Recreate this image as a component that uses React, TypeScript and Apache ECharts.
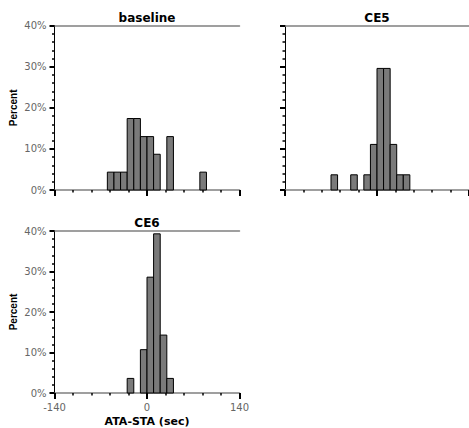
import React, { useEffect, useRef } from "react";
import * as echarts from "echarts";

const panelTitles = ["baseline", "CE5", "CE6"];
const binWidth = 10;
const baselineStarts = [-60, -50, -40, -30, -20, -10, 0, 10, 30, 80];
const baselinePct = [4.35, 4.35, 4.35, 17.4, 17.4, 13.0, 13.0, 8.7, 13.0, 4.35];
const ce5Starts = [-70, -40, -20, -10, 0, 10, 20, 30, 40];
const ce5Pct = [3.7, 3.7, 3.7, 11.1, 29.6, 29.6, 11.1, 3.7, 3.7];
const ce6Starts = [-30, -10, 0, 10, 20, 30];
const ce6Pct = [3.6, 10.7, 28.6, 39.3, 14.3, 3.6];
const xMin = -140;
const xMax = 140;
const xInterval = 140;
const yMax = 40;
const yInterval = 10;
const xAxisTitle = "ATA-STA (sec)";
const yAxisTitle = "Percent";

const grids = [
  { left: 54.5, top: 25.7, width: 185, height: 164.3 },
  { left: 285, top: 25.7, width: 185, height: 164.3 },
  { left: 54.5, top: 231, width: 185, height: 164.3 },
];

export default function App() {
  const ref = useRef<HTMLDivElement>(null);
  useEffect(() => {
    if (!ref.current) return;
    const chart = echarts.init(ref.current, null, { renderer: "svg" });
    const seriesData = [
      baselineStarts.map((s, i) => [s, s + binWidth, baselinePct[i]]),
      ce5Starts.map((s, i) => [s, s + binWidth, ce5Pct[i]]),
      ce6Starts.map((s, i) => [s, s + binWidth, ce6Pct[i]]),
    ];
    const xAxes: any[] = [];
    const yAxes: any[] = [];
    const series: any[] = [];
    grids.forEach((g, i) => {
      xAxes.push({
        type: "value",
        gridIndex: i,
        position: "bottom",
        min: xMin,
        max: xMax,
        interval: xInterval,
        name: i === 2 ? xAxisTitle : "",
        nameLocation: "middle",
        nameGap: 23,
        nameTextStyle: {
          fontFamily: "DejaVu Sans",
          fontWeight: "bold",
          fontSize: 11,
          color: "#000",
        },
        axisLine: { show: true, onZero: false, lineStyle: { color: "#808080", width: 1.5 } },
        axisTick: { show: true, length: 6, lineStyle: { color: "#000", width: 2 } },
        minorTick: { show: true, splitNumber: 5, length: 2.5, lineStyle: { color: "#000", width: 1.5 } },
        splitLine: { show: false },
        minorSplitLine: { show: false },
        axisLabel: {
          show: i === 2,
          margin: 9,
          fontFamily: "DejaVu Sans",
          fontSize: 10,
          color: "#666",
        },
      });
      xAxes.push({
        type: "value",
        gridIndex: i,
        position: "top",
        min: xMin,
        max: xMax,
        interval: xInterval,
        name: panelTitles[i],
        nameLocation: "middle",
        nameGap: 2,
        nameTextStyle: {
          fontFamily: "DejaVu Sans",
          fontWeight: "bold",
          fontSize: 12,
          color: "#000",
        },
        axisLine: { show: true, onZero: false, lineStyle: { color: "#808080", width: 1.5 } },
        axisTick: { show: false },
        axisLabel: { show: false },
        splitLine: { show: false },
      });
      yAxes.push({
        type: "value",
        gridIndex: i,
        min: 0,
        max: yMax,
        interval: yInterval,
        name: i === 1 ? "" : yAxisTitle,
        nameLocation: "middle",
        nameRotate: 90,
        nameGap: 36,
        nameTextStyle: {
          fontFamily: "Liberation Sans",
          fontWeight: "bold",
          fontSize: 10,
          color: "#000",
        },
        axisLine: { show: true, onZero: false, lineStyle: { color: "#000", width: 1 } },
        axisTick: { show: true, length: 5, lineStyle: { color: "#000", width: 2 } },
        minorTick: { show: true, splitNumber: 5, length: 2.5, lineStyle: { color: "#000", width: 1.5 } },
        splitLine: { show: false },
        minorSplitLine: { show: false },
        axisLabel: {
          show: i !== 1,
          margin: 8,
          formatter: "{value}%",
          fontFamily: "DejaVu Sans",
          fontSize: 10,
          color: "#666",
        },
      });
      series.push({
        type: "custom",
        xAxisIndex: i * 2,
        yAxisIndex: i,
        data: seriesData[i],
        encode: { x: [0, 1], y: 2 },
        renderItem: (params: any, api: any) => {
          const x0 = api.value(0);
          const x1 = api.value(1);
          const y = api.value(2);
          const p0 = api.coord([x0, y]);
          const p1 = api.coord([x1, 0]);
          return {
            type: "rect",
            shape: { x: p0[0], y: p0[1], width: p1[0] - p0[0], height: p1[1] - p0[1] },
            style: { fill: "#7a7a7a", stroke: "#000", lineWidth: 1 },
          };
        },
      });
    });
    chart.setOption({
      animation: false,
      backgroundColor: "#fff",
      grid: grids.map((g) => ({ ...g, containLabel: false })),
      xAxis: xAxes,
      yAxis: yAxes,
      series,
    });
    return () => chart.dispose();
  }, []);
  return (
    <div
      ref={ref}
      style={{ position: "fixed", left: 0, top: 0, width: 469, height: 428 }}
    />
  );
}
